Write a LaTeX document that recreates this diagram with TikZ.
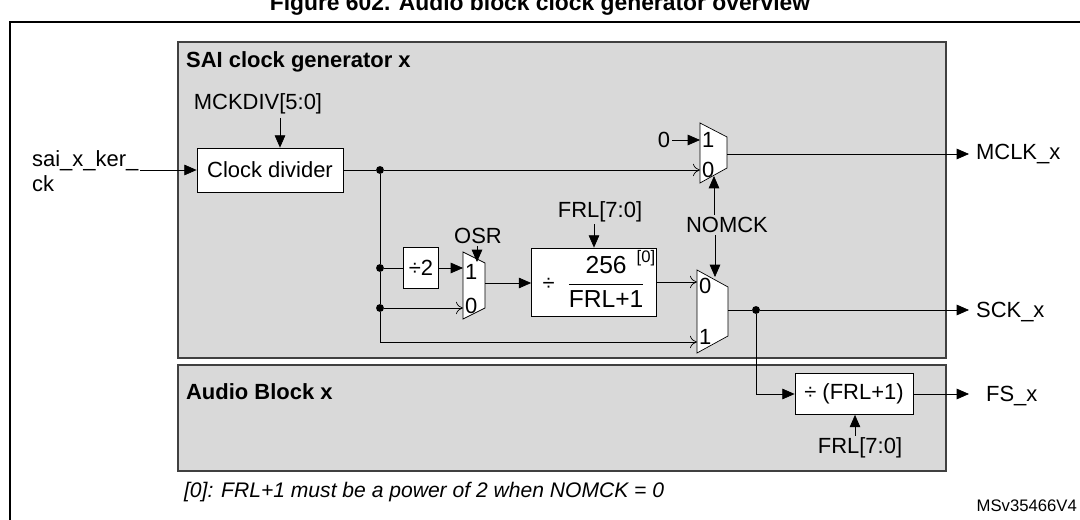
\documentclass[tikz,border=0pt]{standalone}
\usepackage{fontspec}
\setmainfont{Liberation Sans}
\usetikzlibrary{arrows.meta,positioning}
\tikzset{
  blk/.style={draw,fill=white,inner sep=0pt},
  lbl/.style={inner sep=1pt},
  sig/.style={-{Triangle[length=7pt,width=6pt]}},
  pin/.style={-{To[length=4pt,width=7pt]}},
  dot/.style={circle,fill,inner sep=0pt,minimum size=4.5pt},
  area/.style={draw=black!75,fill=black!15,line width=0.8pt}
}
\begin{document}
\begin{tikzpicture}[x=0.02cm,y=-0.02cm,font=\fontsize{12.5}{14}\selectfont]
  \useasboundingbox (0,0) rectangle (1080,520);
  % frame and title
  \node[font=\bfseries\fontsize{13}{15}\selectfont] (title) at (540,5) {Figure 602. Audio block clock generator overview};
  \draw[line width=1.2pt] (1080,22) -- (10,22) -- (10,520);
  \draw[area] (178,42) rectangle (946,358);
  \draw[area] (178,365) rectangle (946,471);
  \node[lbl,anchor=west,font=\bfseries\fontsize{12.5}{14}\selectfont] (saiT) at (184,62) {SAI clock generator x};
  \node[lbl,anchor=west,font=\bfseries\fontsize{12.5}{14}\selectfont] (audT) at (184,392) {Audio Block x};
  % clock divider
  \node[blk,minimum width=146*0.02cm,minimum height=44*0.02cm] (div) at (270,170) {Clock divider};
  \node[lbl] (mckdiv) at (258,104) {MCKDIV[5:0]};
  \node[lbl,align=left,anchor=west] (ker) at (30,171) {sai\_x\_ker\_\\ck};
  \draw[sig] (280,118) -- (div.north -| 280,0);
  \draw[sig] (ker.east |- div) -- (div);
  % muxes
  \draw[fill=white] (700,123) -- (727,137) -- (727,168) -- (700,183) -- cycle;
  \draw[fill=white] (463,252) -- (485,263) -- (485,308) -- (463,319) -- cycle;
  \draw[fill=white] (697,270) -- (728,287) -- (728,336) -- (697,353) -- cycle;
  \node[lbl,anchor=west] (m1a) at (700,140) {1};
  \node[lbl,anchor=west] (m1b) at (700,170) {0};
  \node[lbl,anchor=west] (m2a) at (463,272) {1};
  \node[lbl,anchor=west] (m2b) at (463,306) {0};
  \node[lbl,anchor=west] (m3a) at (697,286) {0};
  \node[lbl,anchor=west] (m3b) at (697,337) {1};
  \coordinate (m1o) at (727,154);
  \coordinate (m2o) at (485,283);
  \coordinate (m3o) at (728,310);
  % dividers
  \node[blk,minimum width=35*0.02cm,minimum height=41*0.02cm] (half) at (421,268) {÷2};
  \node[blk,minimum width=125*0.02cm,minimum height=68*0.02cm] (frac) at (594,282) {÷\ \ {\fontsize{14}{16}\selectfont$\displaystyle\frac{\textrm{256}}{\textrm{FRL+1}}$}};
  \node[lbl,font=\fontsize{9.5}{11}\selectfont] (note) at (646,258) {[0]};
  \node[blk,minimum width=118*0.02cm,minimum height=41*0.02cm] (fs) at (854,394) {÷ (FRL+1)};
  % control labels
  \node[lbl] (zero) at (664,140) {0};
  \node[lbl] (osr) at (478,236) {OSR};
  \node[lbl] (frlA) at (600,212) {FRL[7:0]};
  \node[lbl] (nomck) at (727,225) {NOMCK};
  \node[lbl] (frlB) at (860,448) {FRL[7:0]};
  \draw[sig] (zero) -- (700,140);
  \draw[sig] (osr.south -| 477,0) -- (477,262);
  \draw[sig] (frlA.south -| 594,0) -- (frac.north -| 594,0);
  \draw[sig] (nomck.north -| 714,0) -- (714,176);
  \draw[sig] (nomck.south -| 715,0) -- (715,277);
  \draw[sig] (frlB.north -| 855,0) -- (fs.south -| 855,0);
  % nets
  \node[dot] (n1) at (380,170) {};
  \node[dot] (n2) at (380,268) {};
  \node[dot] (n3) at (380,308) {};
  \node[dot] (n4) at (756,310) {};
  \draw (div) -- (n1);
  \draw[pin] (n1) -- (700,170);
  \draw (n1) -- (n2) -- (n3) -- (380,342);
  \draw[pin] (380,342) -- (697,342);
  \draw (n2) -- (half);
  \draw[sig] (half) -- (463,268);
  \draw[pin] (n3) -- (463,308);
  \draw[sig] (m2o) -- (frac.west |- m2o);
  \draw[pin] (frac.east |- 0,282) -- (697,282);
  \node[lbl,anchor=west] (mclk) at (974,154) {MCLK\_x};
  \node[lbl,anchor=west] (sck) at (974,312) {SCK\_x};
  \node[lbl,anchor=west] (fsx) at (984,396) {FS\_x};
  \draw[sig] (m1o) -- ([xshift=-5*0.02cm]mclk.west);
  \draw (m3o) -- (n4);
  \draw[sig] (n4) -- ([xshift=-5*0.02cm]sck.west |- n4);
  \draw[sig] (n4) |- (fs);
  \draw[sig] (fs) -- ([xshift=-15*0.02cm]fsx.west |- fs);
  % footnote
  \node[lbl,anchor=west,font=\itshape\fontsize{12}{14}\selectfont] (foot) at (182,492) {[0]: FRL+1 must be a power of 2 when NOMCK = 0};
  \node[lbl,anchor=east,font=\fontsize{9.5}{11}\selectfont] (ref) at (1079,506) {MSv35466V4};
\end{tikzpicture}
\end{document}
